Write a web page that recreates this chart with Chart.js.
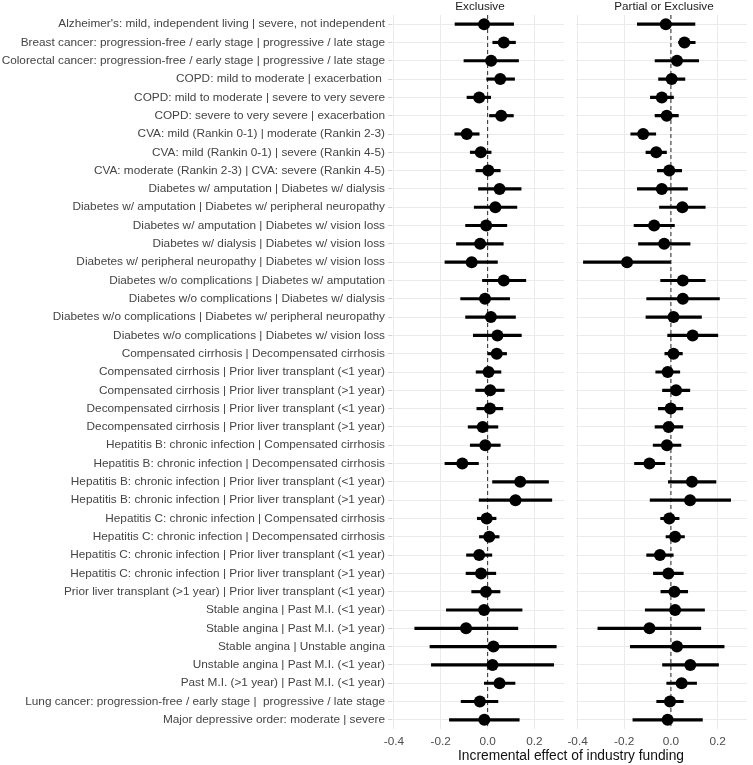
<!DOCTYPE html>
<html>
<head>
<meta charset="utf-8">
<title>Incremental effect of industry funding</title>
<script src="https://cdn.jsdelivr.net/npm/chart.js@4.4.0/dist/chart.umd.min.js"></script>
<style>
  body { margin: 0; background: #fff; font-family: "Liberation Sans", Arial, sans-serif; }
  #wrap { position: relative; width: 753px; height: 765px; overflow: hidden; }
  canvas { position: absolute; top: 0; }
  #leftChart { left: 0; }
  #rightChart { left: 550px; }
  .strip { position: absolute; top: -1px; font-size: 11.7px; color: #1a1a1a; transform: translateX(-50%); white-space: nowrap; }
  #xtitle { position: absolute; top: 748px; left: 571px; transform: translateX(-50%); font-size: 13.8px; color: #111; white-space: nowrap; }
</style>
</head>
<body>
<div id="wrap">
  <canvas id="leftChart" width="570" height="765"></canvas>
  <canvas id="rightChart" width="203" height="765"></canvas>
  <div class="strip" style="left:480px">Exclusive</div>
  <div class="strip" style="left:664px">Partial or Exclusive</div>
  <div id="xtitle">Incremental effect of industry funding</div>
</div>

<script>
  // categories, top to bottom
  var categories = [
    "Alzheimer's: mild, independent living | severe, not independent",
    "Breast cancer: progression-free / early stage | progressive / late stage",
    "Colorectal cancer: progression-free / early stage | progressive / late stage",
    "COPD: mild to moderate | exacerbation ",
    "COPD: mild to moderate | severe to very severe",
    "COPD: severe to very severe | exacerbation",
    "CVA: mild (Rankin 0-1) | moderate (Rankin 2-3)",
    "CVA: mild (Rankin 0-1) | severe (Rankin 4-5)",
    "CVA: moderate (Rankin 2-3) | CVA: severe (Rankin 4-5)",
    "Diabetes w/ amputation | Diabetes w/ dialysis",
    "Diabetes w/ amputation | Diabetes w/ peripheral neuropathy",
    "Diabetes w/ amputation | Diabetes w/ vision loss",
    "Diabetes w/ dialysis | Diabetes w/ vision loss",
    "Diabetes w/ peripheral neuropathy | Diabetes w/ vision loss",
    "Diabetes w/o complications | Diabetes w/ amputation",
    "Diabetes w/o complications | Diabetes w/ dialysis",
    "Diabetes w/o complications | Diabetes w/ peripheral neuropathy",
    "Diabetes w/o complications | Diabetes w/ vision loss",
    "Compensated cirrhosis | Decompensated cirrhosis",
    "Compensated cirrhosis | Prior liver transplant (<1 year)",
    "Compensated cirrhosis | Prior liver transplant (>1 year)",
    "Decompensated cirrhosis | Prior liver transplant (<1 year)",
    "Decompensated cirrhosis | Prior liver transplant (>1 year)",
    "Hepatitis B: chronic infection | Compensated cirrhosis",
    "Hepatitis B: chronic infection | Decompensated cirrhosis",
    "Hepatitis B: chronic infection | Prior liver transplant (<1 year)",
    "Hepatitis B: chronic infection | Prior liver transplant (>1 year)",
    "Hepatitis C: chronic infection | Compensated cirrhosis",
    "Hepatitis C: chronic infection | Decompensated cirrhosis",
    "Hepatitis C: chronic infection | Prior liver transplant (<1 year)",
    "Hepatitis C: chronic infection | Prior liver transplant (>1 year)",
    "Prior liver transplant (>1 year) | Prior liver transplant (<1 year)",
    "Stable angina | Past M.I. (<1 year)",
    "Stable angina | Past M.I. (>1 year)",
    "Stable angina | Unstable angina",
    "Unstable angina | Past M.I. (<1 year)",
    "Past M.I. (>1 year) | Past M.I. (<1 year)",
    "Lung cancer: progression-free / early stage |  progressive / late stage",
    "Major depressive order: moderate | severe"
  ];

  // Exclusive panel
  var exclPoint = [-0.015, 0.069, 0.015, 0.054, -0.036, 0.058, -0.089, -0.029, 0.003, 0.051,
                   0.033, -0.006, -0.032, -0.068, 0.069, -0.011, 0.014, 0.042, 0.039, 0.004,
                   0.011, 0.010, -0.021, -0.010, -0.108, 0.139, 0.119, -0.004, 0.007, -0.036,
                   -0.028, -0.007, -0.015, -0.092, 0.025, 0.021, 0.051, -0.033, -0.014];
  var exclLow = [-0.139, 0.022, -0.101, -0.004, -0.088, 0.008, -0.140, -0.074, -0.050, -0.039,
                 -0.057, -0.094, -0.133, -0.182, -0.022, -0.115, -0.094, -0.061, 0.000, -0.049,
                 -0.051, -0.046, -0.083, -0.074, -0.182, 0.021, -0.036, -0.044, -0.035, -0.090,
                 -0.092, -0.068, -0.176, -0.311, -0.246, -0.240, -0.014, -0.113, -0.163];
  var exclHigh = [0.111, 0.119, 0.132, 0.115, 0.013, 0.110, -0.036, 0.015, 0.054, 0.143,
                  0.125, 0.082, 0.067, 0.042, 0.163, 0.094, 0.119, 0.144, 0.081, 0.057,
                  0.071, 0.065, 0.044, 0.054, -0.039, 0.260, 0.274, 0.036, 0.049, 0.018,
                  0.035, 0.053, 0.147, 0.129, 0.293, 0.282, 0.117, 0.044, 0.135];

  // Partial or Exclusive panel
  var partPoint = [-0.022, 0.058, 0.026, 0.003, -0.039, -0.018, -0.119, -0.063, -0.007, -0.039,
                   0.049, -0.072, -0.029, -0.188, 0.051, 0.051, 0.011, 0.093, 0.011, -0.014,
                   0.022, -0.001, -0.010, -0.017, -0.092, 0.090, 0.082, -0.007, 0.018, -0.047,
                   -0.011, 0.015, 0.018, -0.092, 0.026, 0.083, 0.046, -0.004, -0.014];
  var partLow = [-0.144, 0.033, -0.068, -0.053, -0.088, -0.068, -0.172, -0.107, -0.058, -0.144,
                 -0.049, -0.158, -0.139, -0.375, -0.044, -0.104, -0.107, -0.014, -0.026, -0.065,
                 -0.036, -0.054, -0.068, -0.076, -0.156, -0.011, -0.089, -0.044, -0.021, -0.104,
                 -0.075, -0.043, -0.110, -0.313, -0.174, -0.036, -0.018, -0.061, -0.163];
  var partHigh = [0.103, 0.104, 0.119, 0.060, 0.011, 0.032, -0.065, -0.019, 0.046, 0.071,
                  0.147, 0.015, 0.082, 0.000, 0.147, 0.208, 0.131, 0.201, 0.049, 0.038,
                  0.081, 0.051, 0.051, 0.043, -0.026, 0.193, 0.256, 0.035, 0.058, 0.010,
                  0.053, 0.072, 0.144, 0.128, 0.228, 0.204, 0.110, 0.053, 0.135];

  var xTicks = [-0.4, -0.2, 0.0, 0.2];
  var xMin = -0.408;
  var xMax = 0.326;

  // dashed reference line at zero
  var zeroLine = {
    id: 'zeroLine',
    beforeDatasetsDraw: function(chart) {
      var ctx = chart.ctx;
      var area = chart.chartArea;
      var x = chart.scales.x.getPixelForValue(0);
      ctx.save();
      ctx.strokeStyle = '#3a3a3a';
      ctx.lineWidth = 1.1;
      ctx.setLineDash([4, 3]);
      ctx.beginPath();
      ctx.moveTo(x, area.top);
      ctx.lineTo(x, area.bottom);
      ctx.stroke();
      ctx.restore();
    }
  };

  function makePanel(id, point, low, high, showLabels, pad) {
    var ctx = document.getElementById(id).getContext('2d');
    return new Chart(ctx, {
      type: 'bar',
      data: {
        labels: categories,
        datasets: [
          {
            type: 'line',
            indexAxis: 'y',
            data: point,
            showLine: false,
            pointRadius: 6,
            pointBorderWidth: 0,
            pointBackgroundColor: '#000',
            borderColor: '#000',
            order: 1
          },
          {
            type: 'bar',
            indexAxis: 'y',
            data: low.map(function(l, i) { return [l, high[i]]; }),
            backgroundColor: '#000',
            borderWidth: 0,
            barThickness: 2.5,
            order: 2
          }
        ]
      },
      options: {
        indexAxis: 'y',
        responsive: false,
        animation: false,
        events: [],
        layout: { padding: pad },
        plugins: { legend: { display: false }, tooltip: { enabled: false } },
        scales: {
          x: {
            type: 'linear',
            min: xMin,
            max: xMax,
            afterBuildTicks: function(s) { s.ticks = xTicks.map(function(v) { return { value: v }; }); },
            afterFit: function(s) { s.height = 36; },
            border: { display: false },
            grid: { color: '#ebebeb', lineWidth: 1, drawTicks: false },
            ticks: {
              padding: 6,
              color: '#4d4d4d',
              font: { family: 'Liberation Sans', size: 11.8 },
              callback: function(v) { return Number(v).toFixed(1); }
            }
          },
          y: {
            type: 'category',
            offset: true,
            afterFit: function(s) { s.width = showLabels ? 392 : 0; },
            border: { display: false },
            grid: { color: '#ebebeb', lineWidth: 1, offset: false, drawTicks: showLabels, tickLength: 4, tickColor: '#d4d4d4' },
            ticks: {
              display: showLabels,
              padding: 3,
              autoSkip: false,
              color: '#444',
              font: { family: 'Liberation Sans', size: 11.8 }
            }
          }
        }
      },
      plugins: [zeroLine]
    });
  }

  var leftChart = makePanel('leftChart', exclPoint, exclLow, exclHigh, true,
    { top: 15, right: 1.7, bottom: 0, left: 0 });
  var rightChart = makePanel('rightChart', partPoint, partLow, partHigh, false,
    { top: 15, right: 1, bottom: 0, left: 25.7 });
</script>
</body>
</html>
